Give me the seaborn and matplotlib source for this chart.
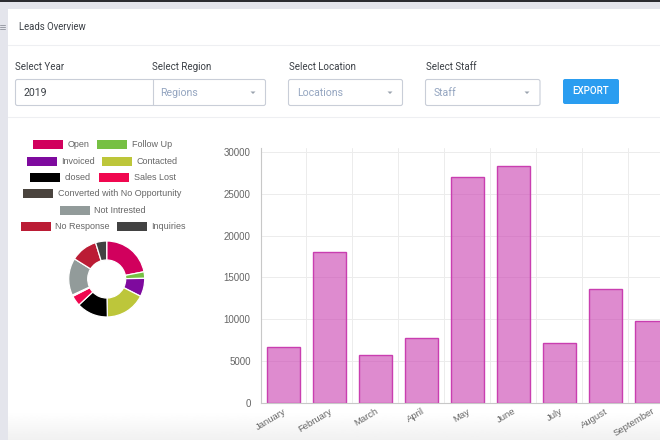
from matplotlib import pyplot as plt
from matplotlib.patches import Rectangle, FancyBboxPatch
import seaborn as sns
import numpy as np
import pandas as pd

months = ['January', 'February', 'March', 'April', 'May', 'June', 'July', 'August', 'September']
leads = [6680, 18020, 5690, 7760, 27000, 28380, 7090, 13590, 9750]

statuses = ['Open', 'Follow Up', 'Invoiced', 'Contacted', 'closed', 'Sales Lost',
            'Converted with No Opportunity', 'Not Intrested', 'No Response', 'Inquiries']
status_counts = [79, 10, 28, 62, 48, 16, 2, 57, 41, 17]
status_colors = ['#d1005d', '#76c043', '#7e0a9e', '#bdc63a', '#000000', '#f0074f',
                 '#4a443e', '#929b9a', '#bb1c35', '#424242']

W, H = 660, 440
TEXT = '#3a3f45'
GREY = '#666666'
HINT = '#94a5c0'
BORDER = '#c9ced8'


def px_axes(fig, left, top, right, bottom, **kw):
    return fig.add_axes([left / W, 1 - bottom / H, (right - left) / W, (bottom - top) / H], **kw)


def draw_page(ui):
    ui.set_xlim(0, W)
    ui.set_ylim(H, 0)
    ui.axis('off')
    ui.add_patch(Rectangle((0, 0), W, H, color='#e4e5ec', lw=0))
    ui.add_patch(Rectangle((0, 0), W, 2.5, color='#2c2c31', lw=0))
    ui.add_patch(Rectangle((8, 9), W, H, color='white', lw=0))
    fade = np.linspace(1, 0.945, 40).reshape(-1, 1)
    ui.imshow(fade, extent=(8, W, H, 412), cmap='gray', vmin=0, vmax=1, aspect='auto', zorder=1)
    ui.set_xlim(0, W)
    ui.set_ylim(H, 0)
    ui.plot([8, W], [45.5, 45.5], color='#eeeff2', lw=0.8)
    ui.plot([8, W], [117, 117], color='#eeeff2', lw=0.8)
    for y in (25.5, 27.5, 29.5):
        ui.plot([0, 5], [y, y], color='#9a9da6', lw=0.7)

    ui.text(19, 26.5, 'Leads Overview', fontsize=6.9, color=TEXT, va='center', family='Roboto')
    for x, label in [(15, 'Select Year'), (152, 'Select Region'), (289, 'Select Location'), (425.5, 'Select Staff')]:
        ui.text(x, 66.5, label, fontsize=7.0, color=TEXT, va='center', family='Roboto')

    boxes = [(15.5, 265.5), (288.5, 402.5), (425.5, 540)]
    for x0, x1 in boxes:
        ui.add_patch(FancyBboxPatch((x0, 79.5), x1 - x0, 26, boxstyle='round,pad=0,rounding_size=2',
                                    fc='white', ec=BORDER, lw=0.8))
    ui.plot([152.5, 152.5], [79.5, 105.5], color=BORDER, lw=0.8)
    ui.text(23, 92.5, '2019', fontsize=7.6, color=TEXT, va='center', family='Roboto')
    for x, label, arrow in [(160, 'Regions', 253), (297, 'Locations', 390), (434, 'Staff', 527)]:
        ui.text(x, 92.5, label, fontsize=7.6, color=HINT, va='center', family='Roboto')
        ui.fill([arrow - 2.5, arrow + 2.5, arrow], [91.5, 91.5, 94], color='#9aa3ae', lw=0)
    ui.add_patch(FancyBboxPatch((563, 79), 56, 25, boxstyle='round,pad=0,rounding_size=2',
                                fc='#2a9df0', ec='none'))
    ui.text(591, 91.5, 'EXPORT', fontsize=7, color='white', va='center', ha='center',
            family='Roboto', weight='medium')


def draw_legend(ui):
    items = [(33, 144.5), (97, 144.5), (26.5, 161.5), (102, 161.5), (30, 177.5), (99, 177.5),
             (23, 194), (59.5, 210.5), (20.5, 226.5), (116.5, 226.5)]
    for (x, y), label, color in zip(items, statuses, status_colors):
        ui.add_patch(Rectangle((x, y - 4.5), 30, 9, color=color, lw=0))
        ui.text(x + 34.8, y, label, fontsize=6.5, color=GREY, va='center', family='Liberation Sans')


def draw_donut(ax):
    ax.pie(status_counts, colors=status_colors, startangle=90, counterclock=False, radius=1,
           wedgeprops={'width': 0.5, 'edgecolor': 'white', 'linewidth': 0.9})
    ax.set_xlim(-1, 1)
    ax.set_ylim(-1, 1)


def draw_bars(ax):
    data = pd.DataFrame({'month': months, 'leads': leads})
    sns.barplot(data=data, x='month', y='leads', color='#c93eb0', saturation=1, width=0.72,
                edgecolor='#c93eb0', linewidth=1.0, ax=ax, zorder=2)
    # translucent fill, solid outline, so the grid shows through
    for bar in ax.patches:
        bar.set_facecolor((201 / 255, 62 / 255, 176 / 255, 0.6))
    ax.set_xlabel('')
    ax.set_ylabel('')
    ax.patch.set_alpha(0)
    sns.despine(ax=ax, top=True, right=True)
    ax.spines['left'].set_color('#c8c8c8')
    ax.spines['bottom'].set_color('#c8c8c8')
    ax.spines['left'].set_linewidth(0.8)
    ax.spines['bottom'].set_linewidth(0.8)

    ax.set_xticks(np.arange(len(months)) + 0.5)
    ax.set_xticklabels([])
    ax.set_xticks(np.arange(len(months)), months, minor=True)
    ax.tick_params(axis='x', which='major', length=5, width=0.6, color='#e8e8e8')
    ax.tick_params(axis='x', which='minor', length=0, pad=3, labelsize=6.8, labelcolor=GREY)
    for label in ax.get_xticklabels(minor=True):
        label.set_rotation(31)
        label.set_ha('right')
        label.set_rotation_mode('anchor')
        label.set_family('Liberation Sans')

    ax.set_yticks(range(0, 30001, 5000))
    ax.tick_params(axis='y', length=6, width=0.6, color='#dcdcdc', pad=1.5, labelsize=7, labelcolor=GREY)
    for label in ax.get_yticklabels():
        label.set_family('Liberation Sans')
    ax.grid(True, which='major', color='#ececec', lw=0.7)
    ax.set_axisbelow(True)
    ax.set_xlim(-0.485, 8.19)
    ax.set_ylim(0, 30480)


sns.set_theme(style='white')
fig = plt.figure(figsize=(W / 100, H / 100), dpi=100)
ui = fig.add_axes([0, 0, 1, 1])
draw_page(ui)
draw_legend(ui)
ax_donut = px_axes(fig, 68.7, 241, 144.7, 317)
draw_donut(ax_donut)
ax_bars = px_axes(fig, 261, 148, 660, 402.5)
draw_bars(ax_bars)
fig.savefig('out.png', dpi=100)
